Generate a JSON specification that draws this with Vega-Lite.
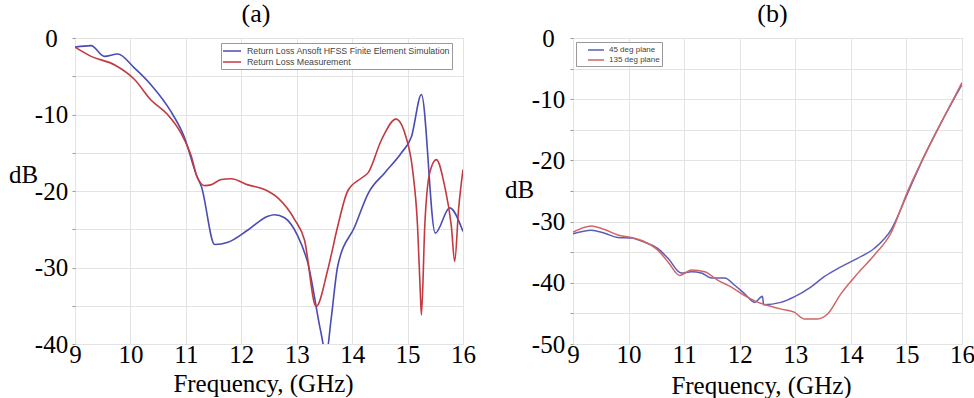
{
  "$schema": "https://vega.github.io/schema/vega-lite/v6.json",
  "autosize": {"type": "pad"},
  "padding": {"left": 7, "top": 0, "right": 0, "bottom": 0},
  "background": "white",
  "bounds": "flush",
  "spacing": 110,
  "config": {
    "view": {"stroke": "#c4c4c4", "strokeWidth": 1},
    "font": "Liberation Serif",
    "axis": {
      "labelFont": "Liberation Serif", "labelFontSize": 25, "labelColor": "black",
      "titleFont": "Liberation Serif", "titleFontSize": 25, "titleFontWeight": "normal", "titleColor": "black",
      "gridColor": "#e3e3e3", "domain": false, "tickColor": "#999", "tickSize": 3
    },
    "title": {"font": "Liberation Serif", "fontSize": 26, "fontWeight": "normal", "color": "black", "frame": "group", "offset": -1},
    "legend": {
      "labelFont": "Liberation Sans", "labelFontSize": 8, "labelColor": "#444",
      "symbolSize": 100, "symbolStrokeWidth": 1.5, "padding": 2, "strokeColor": "#999", "fillColor": "white",
      "rowPadding": 0, "labelLimit": 400, "orient": "none"
    }
  },
  "datasets": {
    "a": [
      {"s": "Return Loss Ansoft HFSS Finite Element Simulation", "f": 9.0, "db": -1.2},
      {"s": "Return Loss Ansoft HFSS Finite Element Simulation", "f": 9.29, "db": -1.0},
      {"s": "Return Loss Ansoft HFSS Finite Element Simulation", "f": 9.53, "db": -2.4},
      {"s": "Return Loss Ansoft HFSS Finite Element Simulation", "f": 9.77, "db": -2.1},
      {"s": "Return Loss Ansoft HFSS Finite Element Simulation", "f": 10.07, "db": -3.9},
      {"s": "Return Loss Ansoft HFSS Finite Element Simulation", "f": 10.37, "db": -6.1},
      {"s": "Return Loss Ansoft HFSS Finite Element Simulation", "f": 10.73, "db": -9.6},
      {"s": "Return Loss Ansoft HFSS Finite Element Simulation", "f": 10.97, "db": -12.9},
      {"s": "Return Loss Ansoft HFSS Finite Element Simulation", "f": 11.2, "db": -18.1},
      {"s": "Return Loss Ansoft HFSS Finite Element Simulation", "f": 11.28, "db": -19.4},
      {"s": "Return Loss Ansoft HFSS Finite Element Simulation", "f": 11.52, "db": -27.0},
      {"s": "Return Loss Ansoft HFSS Finite Element Simulation", "f": 11.76, "db": -26.7},
      {"s": "Return Loss Ansoft HFSS Finite Element Simulation", "f": 12.12, "db": -25.1},
      {"s": "Return Loss Ansoft HFSS Finite Element Simulation", "f": 12.48, "db": -23.3},
      {"s": "Return Loss Ansoft HFSS Finite Element Simulation", "f": 12.6, "db": -23.1},
      {"s": "Return Loss Ansoft HFSS Finite Element Simulation", "f": 12.78, "db": -23.5},
      {"s": "Return Loss Ansoft HFSS Finite Element Simulation", "f": 13.02, "db": -25.9},
      {"s": "Return Loss Ansoft HFSS Finite Element Simulation", "f": 13.2, "db": -29.4},
      {"s": "Return Loss Ansoft HFSS Finite Element Simulation", "f": 13.44, "db": -38.6},
      {"s": "Return Loss Ansoft HFSS Finite Element Simulation", "f": 13.53, "db": -41.5},
      {"s": "Return Loss Ansoft HFSS Finite Element Simulation", "f": 13.62, "db": -36.8},
      {"s": "Return Loss Ansoft HFSS Finite Element Simulation", "f": 13.74, "db": -29.8},
      {"s": "Return Loss Ansoft HFSS Finite Element Simulation", "f": 14.05, "db": -24.6},
      {"s": "Return Loss Ansoft HFSS Finite Element Simulation", "f": 14.29, "db": -20.3},
      {"s": "Return Loss Ansoft HFSS Finite Element Simulation", "f": 14.59, "db": -17.6},
      {"s": "Return Loss Ansoft HFSS Finite Element Simulation", "f": 14.89, "db": -15.0},
      {"s": "Return Loss Ansoft HFSS Finite Element Simulation", "f": 15.07, "db": -12.9},
      {"s": "Return Loss Ansoft HFSS Finite Element Simulation", "f": 15.25, "db": -7.4},
      {"s": "Return Loss Ansoft HFSS Finite Element Simulation", "f": 15.5, "db": -25.5},
      {"s": "Return Loss Ansoft HFSS Finite Element Simulation", "f": 15.76, "db": -22.2},
      {"s": "Return Loss Ansoft HFSS Finite Element Simulation", "f": 16.0, "db": -25.3},
      {"s": "Return Loss Measurement", "f": 9.0, "db": -1.2},
      {"s": "Return Loss Measurement", "f": 9.29, "db": -2.4},
      {"s": "Return Loss Measurement", "f": 9.71, "db": -3.5},
      {"s": "Return Loss Measurement", "f": 10.07, "db": -5.4},
      {"s": "Return Loss Measurement", "f": 10.37, "db": -8.1},
      {"s": "Return Loss Measurement", "f": 10.67, "db": -10.0},
      {"s": "Return Loss Measurement", "f": 10.91, "db": -12.4},
      {"s": "Return Loss Measurement", "f": 11.1, "db": -15.5},
      {"s": "Return Loss Measurement", "f": 11.2, "db": -18.1},
      {"s": "Return Loss Measurement", "f": 11.34, "db": -19.3},
      {"s": "Return Loss Measurement", "f": 11.45, "db": -19.2},
      {"s": "Return Loss Measurement", "f": 11.64, "db": -18.5},
      {"s": "Return Loss Measurement", "f": 11.82, "db": -18.4},
      {"s": "Return Loss Measurement", "f": 12.12, "db": -19.2},
      {"s": "Return Loss Measurement", "f": 12.42, "db": -19.8},
      {"s": "Return Loss Measurement", "f": 12.66, "db": -20.9},
      {"s": "Return Loss Measurement", "f": 12.96, "db": -23.7},
      {"s": "Return Loss Measurement", "f": 13.14, "db": -26.4},
      {"s": "Return Loss Measurement", "f": 13.35, "db": -35.1},
      {"s": "Return Loss Measurement", "f": 13.56, "db": -30.3},
      {"s": "Return Loss Measurement", "f": 13.74, "db": -24.6},
      {"s": "Return Loss Measurement", "f": 13.92, "db": -20.0},
      {"s": "Return Loss Measurement", "f": 14.17, "db": -18.3},
      {"s": "Return Loss Measurement", "f": 14.29, "db": -17.6},
      {"s": "Return Loss Measurement", "f": 14.53, "db": -13.3},
      {"s": "Return Loss Measurement", "f": 14.79, "db": -10.6},
      {"s": "Return Loss Measurement", "f": 14.97, "db": -12.9},
      {"s": "Return Loss Measurement", "f": 15.09, "db": -17.2},
      {"s": "Return Loss Measurement", "f": 15.18, "db": -24.6},
      {"s": "Return Loss Measurement", "f": 15.23, "db": -33.3},
      {"s": "Return Loss Measurement", "f": 15.25, "db": -36.2},
      {"s": "Return Loss Measurement", "f": 15.31, "db": -24.6},
      {"s": "Return Loss Measurement", "f": 15.4, "db": -17.6},
      {"s": "Return Loss Measurement", "f": 15.52, "db": -15.9},
      {"s": "Return Loss Measurement", "f": 15.67, "db": -19.4},
      {"s": "Return Loss Measurement", "f": 15.79, "db": -24.6},
      {"s": "Return Loss Measurement", "f": 15.85, "db": -29.2},
      {"s": "Return Loss Measurement", "f": 15.92, "db": -22.4},
      {"s": "Return Loss Measurement", "f": 16.0, "db": -17.2}
    ],
    "b": [
      {"s": "45 deg plane", "f": 9.0, "db": -32.0},
      {"s": "45 deg plane", "f": 9.33, "db": -31.4},
      {"s": "45 deg plane", "f": 9.57, "db": -31.9},
      {"s": "45 deg plane", "f": 9.81, "db": -32.6},
      {"s": "45 deg plane", "f": 10.05, "db": -32.7},
      {"s": "45 deg plane", "f": 10.29, "db": -33.4},
      {"s": "45 deg plane", "f": 10.53, "db": -34.4},
      {"s": "45 deg plane", "f": 10.71, "db": -36.0},
      {"s": "45 deg plane", "f": 10.95, "db": -38.4},
      {"s": "45 deg plane", "f": 11.13, "db": -38.2},
      {"s": "45 deg plane", "f": 11.31, "db": -38.4},
      {"s": "45 deg plane", "f": 11.49, "db": -39.2},
      {"s": "45 deg plane", "f": 11.73, "db": -39.2},
      {"s": "45 deg plane", "f": 11.91, "db": -40.4},
      {"s": "45 deg plane", "f": 12.09, "db": -41.8},
      {"s": "45 deg plane", "f": 12.27, "db": -43.2},
      {"s": "45 deg plane", "f": 12.41, "db": -42.2},
      {"s": "45 deg plane", "f": 12.43, "db": -43.6},
      {"s": "45 deg plane", "f": 12.74, "db": -43.2},
      {"s": "45 deg plane", "f": 12.98, "db": -42.3},
      {"s": "45 deg plane", "f": 13.28, "db": -40.7},
      {"s": "45 deg plane", "f": 13.52, "db": -39.0},
      {"s": "45 deg plane", "f": 13.82, "db": -37.4},
      {"s": "45 deg plane", "f": 14.12, "db": -36.0},
      {"s": "45 deg plane", "f": 14.42, "db": -34.4},
      {"s": "45 deg plane", "f": 14.72, "db": -31.4},
      {"s": "45 deg plane", "f": 15.02, "db": -25.4},
      {"s": "45 deg plane", "f": 15.32, "db": -19.3},
      {"s": "45 deg plane", "f": 15.62, "db": -13.9},
      {"s": "45 deg plane", "f": 16.0, "db": -7.6},
      {"s": "135 deg plane", "f": 9.0, "db": -31.7},
      {"s": "135 deg plane", "f": 9.33, "db": -30.7},
      {"s": "135 deg plane", "f": 9.57, "db": -31.3},
      {"s": "135 deg plane", "f": 9.81, "db": -32.2},
      {"s": "135 deg plane", "f": 10.05, "db": -32.6},
      {"s": "135 deg plane", "f": 10.29, "db": -33.3},
      {"s": "135 deg plane", "f": 10.53, "db": -34.7},
      {"s": "135 deg plane", "f": 10.71, "db": -36.6},
      {"s": "135 deg plane", "f": 10.92, "db": -38.8},
      {"s": "135 deg plane", "f": 11.13, "db": -37.9},
      {"s": "135 deg plane", "f": 11.37, "db": -38.2},
      {"s": "135 deg plane", "f": 11.61, "db": -39.6},
      {"s": "135 deg plane", "f": 11.85, "db": -40.7},
      {"s": "135 deg plane", "f": 12.09, "db": -42.1},
      {"s": "135 deg plane", "f": 12.33, "db": -43.2},
      {"s": "135 deg plane", "f": 12.51, "db": -43.7},
      {"s": "135 deg plane", "f": 12.75, "db": -44.3},
      {"s": "135 deg plane", "f": 12.98, "db": -44.8},
      {"s": "135 deg plane", "f": 13.16, "db": -45.9},
      {"s": "135 deg plane", "f": 13.4, "db": -45.9},
      {"s": "135 deg plane", "f": 13.58, "db": -45.1},
      {"s": "135 deg plane", "f": 13.82, "db": -41.8},
      {"s": "135 deg plane", "f": 14.12, "db": -38.5},
      {"s": "135 deg plane", "f": 14.42, "db": -35.5},
      {"s": "135 deg plane", "f": 14.72, "db": -31.9},
      {"s": "135 deg plane", "f": 15.02, "db": -25.1},
      {"s": "135 deg plane", "f": 15.32, "db": -19.3},
      {"s": "135 deg plane", "f": 15.62, "db": -13.9},
      {"s": "135 deg plane", "f": 16.0, "db": -7.3}
    ]
  },
  "hconcat": [
    {
      "width": 388, "height": 306,
      "title": {"text": "(a)", "dx": -13},
      "data": {"name": "a"},
      "mark": {"type": "line", "clip": true, "strokeWidth": 1.6, "interpolate": "monotone"},
      "encoding": {
        "x": {"field": "f", "type": "quantitative", "scale": {"domain": [9, 16], "nice": false, "zero": false},
          "axis": {"values": [9, 10, 11, 12, 13, 14, 15, 16], "title": "Frequency, (GHz)", "titleX": 188, "titleY": 39,
            "titleBaseline": "middle", "titleAlign": "center", "ticks": false, "labelPadding": -2, "labelFlush": false, "labelOverlap": false}},
        "y": {"field": "db", "type": "quantitative", "scale": {"domain": [-40, 0], "nice": false, "zero": false},
          "axis": {"values": [0, -5, -10, -15, -20, -25, -30, -35, -40],
            "labelExpr": "datum.value % 10 === 0 ? '' + datum.value : ''",
            "title": "dB", "titleAngle": 0, "titleX": -52, "titleY": 136, "titleAlign": "center", "titleBaseline": "middle",
            "labelAlign": "center", "labelPadding": 21, "labelFlush": false, "labelOverlap": false}},
        "color": {"field": "s", "type": "nominal",
          "scale": {"domain": ["Return Loss Ansoft HFSS Finite Element Simulation", "Return Loss Measurement"], "range": ["#4a4cb3", "#c23a40"]},
          "legend": {"title": null, "orient": "none", "legendX": 146, "legendY": 5, "labelFontSize": 8.8,
            "symbolType": "M-1.8,0H1.8", "symbolOffset": 3, "labelOffset": 9}}
      }
    },
    {
      "width": 389, "height": 306,
      "title": {"text": "(b)", "dx": 5},
      "data": {"name": "b"},
      "mark": {"type": "line", "clip": true, "strokeWidth": 1.5, "interpolate": "monotone"},
      "encoding": {
        "x": {"field": "f", "type": "quantitative", "scale": {"domain": [9, 16], "nice": false, "zero": false},
          "axis": {"values": [9, 10, 11, 12, 13, 14, 15, 16], "title": "Frequency, (GHz)", "titleX": 188, "titleY": 41,
            "titleBaseline": "middle", "titleAlign": "center", "ticks": false, "labelPadding": -2, "labelFlush": false, "labelOverlap": false}},
        "y": {"field": "db", "type": "quantitative", "scale": {"domain": [-50, 0], "nice": false, "zero": false},
          "axis": {"values": [0, -5, -10, -15, -20, -25, -30, -35, -40, -45, -50],
            "labelExpr": "datum.value % 10 === 0 ? '' + datum.value : ''",
            "title": "dB", "titleAngle": 0, "titleX": -54, "titleY": 151, "titleAlign": "center", "titleBaseline": "middle",
            "labelAlign": "center", "labelPadding": 22, "labelFlush": false, "labelOverlap": false}},
        "color": {"field": "s", "type": "nominal",
          "scale": {"domain": ["45 deg plane", "135 deg plane"], "range": ["#5c5cb8", "#d06565"]},
          "legend": {"title": null, "orient": "none", "legendX": 3, "legendY": 4,
            "symbolType": "M-1.6,0H1.6", "symbolOffset": 12, "labelOffset": 7}}
      }
    }
  ],
  "resolve": {"scale": {"color": "independent"}, "legend": {"color": "independent"}}
}
